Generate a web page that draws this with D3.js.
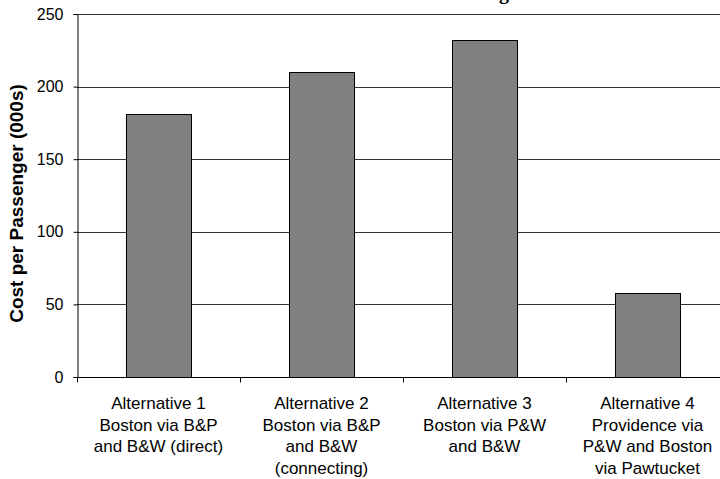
<!DOCTYPE html>
<html>
<head>
<meta charset="utf-8">
<script src="https://cdn.jsdelivr.net/npm/d3@7"></script>
<style>
  html, body { margin: 0; padding: 0; background: #fff; }
  svg { display: block; }
  text { font-family: Arial, "Liberation Sans", sans-serif; }
</style>
</head>
<body>
<svg id="chart" width="720" height="479"></svg>
<script>
// Cost per passenger for each routing alternative (thousands)
const categories = [
  ["Alternative 1", "Boston via B&P", "and B&W (direct)"],
  ["Alternative 2", "Boston via B&P", "and B&W", "(connecting)"],
  ["Alternative 3", "Boston via P&W", "and B&W"],
  ["Alternative 4", "Providence via", "P&W and Boston", "via Pawtucket"]
];
const costs = [181, 210, 232, 58];
const yTicks = [0, 50, 100, 150, 200, 250];
const chartTitle = "Routing Alternatives";
const yTitle = "Cost per Passenger (000s)";

const svg = d3.select("#chart");
const plotLeft = 77, plotRight = 729, plotTop = 14, plotBottom = 377;

const x = d3.scaleBand()
  .domain(d3.range(categories.length))
  .range([plotLeft, plotRight])
  .paddingInner(0.6)
  .paddingOuter(0.3);

const y = d3.scaleLinear().domain([0, 250]).range([plotBottom, plotTop]);

// Title sits mostly above the visible area
svg.append("text")
  .attr("x", 440).attr("y", -1.5)
  .attr("text-anchor", "start")
  .style("font-family", "'Liberation Serif', 'Times New Roman', serif")
  .style("font-weight", "bold")
  .style("font-size", "20px")
  .text(chartTitle);

// Horizontal gridlines
svg.append("g")
  .selectAll("line")
  .data(yTicks.filter(d => d > 0))
  .join("line")
  .attr("x1", plotLeft).attr("x2", 720)
  .attr("y1", d => Math.round(y(d)) + 0.5)
  .attr("y2", d => Math.round(y(d)) + 0.5)
  .attr("stroke", "#333")
  .attr("stroke-width", 1);

// Bars
svg.append("g")
  .selectAll("rect")
  .data(costs)
  .join("rect")
  .attr("x", (d, i) => Math.round(x(i)) + 0.5)
  .attr("y", d => Math.round(y(d)) + 0.5)
  .attr("width", Math.round(x.bandwidth()))
  .attr("height", d => Math.round(y(0)) - Math.round(y(d)))
  .attr("fill", "#808080")
  .attr("stroke", "#000")
  .attr("stroke-width", 1);

// Y axis
const yAxis = svg.append("g")
  .attr("transform", `translate(${plotLeft + 0.5},0)`)
  .call(d3.axisLeft(y).tickValues(yTicks).tickSize(4).tickPadding(10));
yAxis.select(".domain").attr("stroke", "#000");
yAxis.selectAll(".tick line").attr("stroke", "#000");
yAxis.selectAll(".tick text")
  .style("font-size", "16px")
  .style("font-family", "Arial, 'Liberation Sans', sans-serif")
  .attr("fill", "#000");

// X axis baseline with ticks at band boundaries
const baseY = Math.round(y(0)) + 0.5;
svg.append("line")
  .attr("x1", plotLeft).attr("x2", 720)
  .attr("y1", baseY).attr("y2", baseY)
  .attr("stroke", "#000");
const step = x.step();
svg.append("g")
  .selectAll("line")
  .data(d3.range(categories.length + 1))
  .join("line")
  .attr("x1", i => Math.round(plotLeft + i * step) + 0.5)
  .attr("x2", i => Math.round(plotLeft + i * step) + 0.5)
  .attr("y1", baseY).attr("y2", baseY + 5)
  .attr("stroke", "#000");

// Category labels
const labels = svg.append("g")
  .selectAll("text")
  .data(categories)
  .join("text")
  .attr("text-anchor", "middle")
  .style("font-size", "17px")
  .attr("fill", "#000")
  .attr("transform", (d, i) => `translate(${x(i) + x.bandwidth() / 2},409)`);
labels.selectAll("tspan")
  .data(d => d)
  .join("tspan")
  .attr("x", 0)
  .attr("y", (d, j) => j * 21.5)
  .text(d => d);

// Y axis title
svg.append("text")
  .attr("transform", `translate(23,203.5) rotate(-90)`)
  .attr("text-anchor", "middle")
  .style("font-size", "19px")
  .style("font-weight", "bold")
  .attr("fill", "#000")
  .text(yTitle);
</script>
</body>
</html>
